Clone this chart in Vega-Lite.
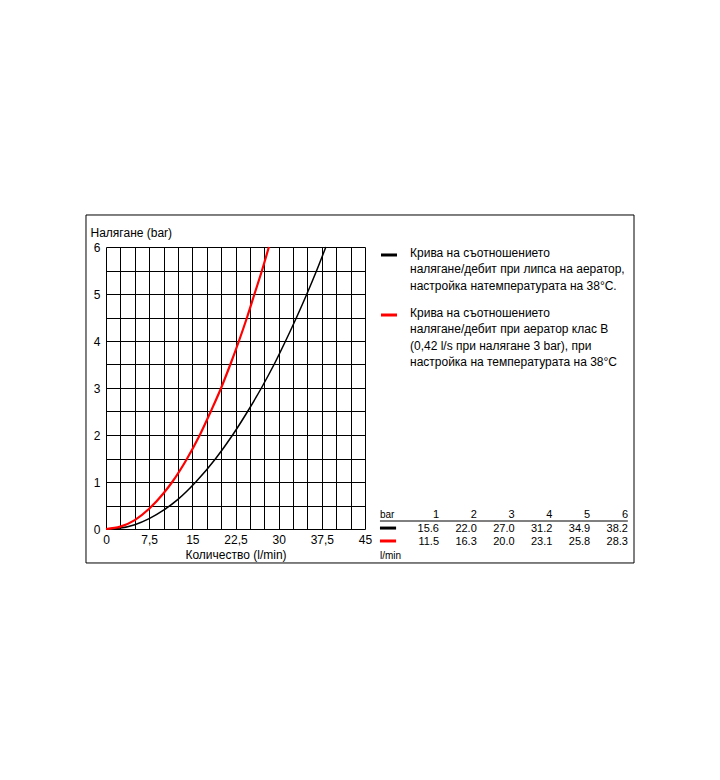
{
  "$schema": "https://vega.github.io/schema/vega-lite/v6.json",
  "autosize": "none",
  "width": 259,
  "height": 282,
  "padding": {"left": 106, "top": 247, "right": 355, "bottom": 251},
  "background": "white",
  "config": {
    "view": {"stroke": null},
    "font": "Liberation Sans",
    "axis": {
      "domain": false,
      "ticks": false,
      "grid": true,
      "gridColor": "#000000",
      "gridOpacity": 1,
      "gridWidth": 1,
      "labelFlush": false,
      "labelOverlap": false,
      "labelFont": "Liberation Sans",
      "labelFontSize": 12,
      "labelColor": "#000000",
      "titleFont": "Liberation Sans",
      "titleFontSize": 12,
      "titleFontWeight": "normal",
      "titleColor": "#000000"
    }
  },
  "datasets": {
    "curves": [
      {"series": "black", "q": 0, "p": 0},
      {"series": "black", "q": 2.5, "p": 0.02},
      {"series": "black", "q": 5, "p": 0.09},
      {"series": "black", "q": 7.5, "p": 0.22},
      {"series": "black", "q": 10, "p": 0.4},
      {"series": "black", "q": 12.5, "p": 0.63},
      {"series": "black", "q": 15.6, "p": 1},
      {"series": "black", "q": 19, "p": 1.49},
      {"series": "black", "q": 22, "p": 2},
      {"series": "black", "q": 24.6, "p": 2.5},
      {"series": "black", "q": 27, "p": 3},
      {"series": "black", "q": 29.2, "p": 3.5},
      {"series": "black", "q": 31.2, "p": 4},
      {"series": "black", "q": 33.1, "p": 4.5},
      {"series": "black", "q": 34.9, "p": 5},
      {"series": "black", "q": 36.6, "p": 5.5},
      {"series": "black", "q": 38.2, "p": 6},
      {"series": "red", "q": 0, "p": 0},
      {"series": "red", "q": 2.5, "p": 0.05},
      {"series": "red", "q": 5, "p": 0.19},
      {"series": "red", "q": 7.5, "p": 0.43},
      {"series": "red", "q": 10, "p": 0.76},
      {"series": "red", "q": 11.5, "p": 1},
      {"series": "red", "q": 14, "p": 1.48},
      {"series": "red", "q": 16.3, "p": 2},
      {"series": "red", "q": 18.2, "p": 2.5},
      {"series": "red", "q": 20, "p": 3},
      {"series": "red", "q": 21.6, "p": 3.5},
      {"series": "red", "q": 23.1, "p": 4},
      {"series": "red", "q": 24.5, "p": 4.5},
      {"series": "red", "q": 25.8, "p": 5},
      {"series": "red", "q": 27.1, "p": 5.5},
      {"series": "red", "q": 28.3, "p": 6}
    ],
    "table": [
      {"bar": 1, "black": 15.6, "red": 11.5},
      {"bar": 2, "black": 22.0, "red": 16.3},
      {"bar": 3, "black": 27.0, "red": 20.0},
      {"bar": 4, "black": 31.2, "red": 23.1},
      {"bar": 5, "black": 34.9, "red": 25.8},
      {"bar": 6, "black": 38.2, "red": 28.3}
    ],
    "one": [{}]
  },
  "layer": [
    {
      "layer": [
        {
          "data": {"name": "curves"},
          "mark": {"type": "line", "interpolate": "monotone", "clip": false},
          "encoding": {
            "x": {
              "field": "q", "type": "quantitative",
              "scale": {"domain": [0, 45], "nice": false, "zero": false},
              "axis": {"title": "Количество (l/min)", "values": [0, 2.5, 5, 7.5, 10, 12.5, 15, 17.5, 20, 22.5, 25, 27.5, 30, 32.5, 35, 37.5, 40, 42.5, 45], "labelExpr": "datum.value % 7.5 === 0 ? replace(toString(datum.value), '.', ',') : ''", "labelPadding": 5, "titlePadding": 4}
            },
            "y": {
              "field": "p", "type": "quantitative",
              "scale": {"domain": [0, 6], "nice": false, "zero": false},
              "axis": {"title": "Налягане (bar)", "values": [0, 0.5, 1, 1.5, 2, 2.5, 3, 3.5, 4, 4.5, 5, 5.5, 6], "labelExpr": "datum.value % 1 === 0 ? toString(datum.value) : ''", "labelPadding": 6, "titleAngle": 0, "titleAlign": "left", "titleBaseline": "middle", "titleX": -16, "titleY": -15}
            },
            "color": {"field": "series", "type": "nominal", "scale": {"domain": ["black", "red"], "range": ["#000000", "#ff0000"]}, "legend": null},
            "strokeWidth": {"field": "series", "type": "nominal", "scale": {"domain": ["black", "red"], "range": [1.5, 2.2]}, "legend": null},
            "order": {"field": "q", "type": "quantitative"}
          }
        },
        {
          "data": {"name": "one"},
          "mark": {"type": "rect", "fill": null, "fillOpacity": 0, "stroke": "#000000", "strokeWidth": 1, "clip": false},
          "encoding": {
            "x": {"datum": -3.475, "type": "quantitative", "axis": {"title": "Количество (l/min)", "values": [0, 2.5, 5, 7.5, 10, 12.5, 15, 17.5, 20, 22.5, 25, 27.5, 30, 32.5, 35, 37.5, 40, 42.5, 45], "labelExpr": "datum.value % 7.5 === 0 ? replace(toString(datum.value), '.', ',') : ''", "labelPadding": 5, "titlePadding": 4}},
            "x2": {"datum": 91.74},
            "y": {"datum": 6.681, "type": "quantitative", "axis": {"title": "Налягане (bar)", "values": [0, 0.5, 1, 1.5, 2, 2.5, 3, 3.5, 4, 4.5, 5, 5.5, 6], "labelExpr": "datum.value % 1 === 0 ? toString(datum.value) : ''", "labelPadding": 6, "titleAngle": 0, "titleAlign": "left", "titleBaseline": "middle", "titleX": -16, "titleY": -15}},
            "y2": {"datum": -0.723}
          }
        },
        {
          "data": {"name": "one"},
          "mark": {"type": "rule", "stroke": "#000000", "strokeWidth": 3, "clip": false},
          "encoding": {
            "x": {"datum": 47.78, "type": "quantitative", "axis": {"title": "Количество (l/min)", "values": [0, 2.5, 5, 7.5, 10, 12.5, 15, 17.5, 20, 22.5, 25, 27.5, 30, 32.5, 35, 37.5, 40, 42.5, 45], "labelExpr": "datum.value % 7.5 === 0 ? replace(toString(datum.value), '.', ',') : ''", "labelPadding": 5, "titlePadding": 4}},
            "x2": {"datum": 50.56},
            "y": {"datum": 5.83, "type": "quantitative", "axis": {"title": "Налягане (bar)", "values": [0, 0.5, 1, 1.5, 2, 2.5, 3, 3.5, 4, 4.5, 5, 5.5, 6], "labelExpr": "datum.value % 1 === 0 ? toString(datum.value) : ''", "labelPadding": 6, "titleAngle": 0, "titleAlign": "left", "titleBaseline": "middle", "titleX": -16, "titleY": -15}}
          }
        },
        {
          "data": {"name": "one"},
          "mark": {"type": "rule", "stroke": "#ff0000", "strokeWidth": 3, "clip": false},
          "encoding": {
            "x": {"datum": 47.78, "type": "quantitative", "axis": {"title": "Количество (l/min)", "values": [0, 2.5, 5, 7.5, 10, 12.5, 15, 17.5, 20, 22.5, 25, 27.5, 30, 32.5, 35, 37.5, 40, 42.5, 45], "labelExpr": "datum.value % 7.5 === 0 ? replace(toString(datum.value), '.', ',') : ''", "labelPadding": 5, "titlePadding": 4}},
            "x2": {"datum": 50.56},
            "y": {"datum": 4.553, "type": "quantitative", "axis": {"title": "Налягане (bar)", "values": [0, 0.5, 1, 1.5, 2, 2.5, 3, 3.5, 4, 4.5, 5, 5.5, 6], "labelExpr": "datum.value % 1 === 0 ? toString(datum.value) : ''", "labelPadding": 6, "titleAngle": 0, "titleAlign": "left", "titleBaseline": "middle", "titleX": -16, "titleY": -15}}
          }
        },
        {
          "data": {"name": "one"},
          "mark": {"type": "text", "align": "left", "baseline": "top", "fontSize": 12, "lineHeight": 16.3, "lineBreak": "\n", "color": "#000000", "clip": false, "dy": -7},
          "encoding": {
            "x": {"datum": 52.82, "type": "quantitative", "axis": {"title": "Количество (l/min)", "values": [0, 2.5, 5, 7.5, 10, 12.5, 15, 17.5, 20, 22.5, 25, 27.5, 30, 32.5, 35, 37.5, 40, 42.5, 45], "labelExpr": "datum.value % 7.5 === 0 ? replace(toString(datum.value), '.', ',') : ''", "labelPadding": 5, "titlePadding": 4}},
            "y": {"datum": 5.83, "type": "quantitative", "axis": {"title": "Налягане (bar)", "values": [0, 0.5, 1, 1.5, 2, 2.5, 3, 3.5, 4, 4.5, 5, 5.5, 6], "labelExpr": "datum.value % 1 === 0 ? toString(datum.value) : ''", "labelPadding": 6, "titleAngle": 0, "titleAlign": "left", "titleBaseline": "middle", "titleX": -16, "titleY": -15}},
            "text": {"value": "Крива на съотношението\nналягане/дебит при липса на аератор,\nнастройка натемпературата на 38°C."}
          }
        },
        {
          "data": {"name": "one"},
          "mark": {"type": "text", "align": "left", "baseline": "top", "fontSize": 12, "lineHeight": 16.3, "lineBreak": "\n", "color": "#000000", "clip": false, "dy": -7},
          "encoding": {
            "x": {"datum": 52.82, "type": "quantitative", "axis": {"title": "Количество (l/min)", "values": [0, 2.5, 5, 7.5, 10, 12.5, 15, 17.5, 20, 22.5, 25, 27.5, 30, 32.5, 35, 37.5, 40, 42.5, 45], "labelExpr": "datum.value % 7.5 === 0 ? replace(toString(datum.value), '.', ',') : ''", "labelPadding": 5, "titlePadding": 4}},
            "y": {"datum": 4.553, "type": "quantitative", "axis": {"title": "Налягане (bar)", "values": [0, 0.5, 1, 1.5, 2, 2.5, 3, 3.5, 4, 4.5, 5, 5.5, 6], "labelExpr": "datum.value % 1 === 0 ? toString(datum.value) : ''", "labelPadding": 6, "titleAngle": 0, "titleAlign": "left", "titleBaseline": "middle", "titleX": -16, "titleY": -15}},
            "text": {"value": "Крива на съотношението\nналягане/дебит при аератор клас B\n(0,42 l/s при налягане 3 bar), при\nнастройка на температурата на 38°C"}
          }
        },
        {
          "data": {"name": "one"},
          "mark": {"type": "text", "align": "left", "baseline": "middle", "fontSize": 10, "color": "#000000", "clip": false},
          "encoding": {
            "x": {"datum": 47.6, "type": "quantitative", "axis": {"title": "Количество (l/min)", "values": [0, 2.5, 5, 7.5, 10, 12.5, 15, 17.5, 20, 22.5, 25, 27.5, 30, 32.5, 35, 37.5, 40, 42.5, 45], "labelExpr": "datum.value % 7.5 === 0 ? replace(toString(datum.value), '.', ',') : ''", "labelPadding": 5, "titlePadding": 4}},
            "y": {"datum": 0.3, "type": "quantitative", "axis": {"title": "Налягане (bar)", "values": [0, 0.5, 1, 1.5, 2, 2.5, 3, 3.5, 4, 4.5, 5, 5.5, 6], "labelExpr": "datum.value % 1 === 0 ? toString(datum.value) : ''", "labelPadding": 6, "titleAngle": 0, "titleAlign": "left", "titleBaseline": "middle", "titleX": -16, "titleY": -15}},
            "text": {"value": "bar"}
          }
        },
        {
          "data": {"name": "one"},
          "mark": {"type": "text", "align": "left", "baseline": "middle", "fontSize": 10, "color": "#000000", "clip": false},
          "encoding": {
            "x": {"datum": 47.6, "type": "quantitative", "axis": {"title": "Количество (l/min)", "values": [0, 2.5, 5, 7.5, 10, 12.5, 15, 17.5, 20, 22.5, 25, 27.5, 30, 32.5, 35, 37.5, 40, 42.5, 45], "labelExpr": "datum.value % 7.5 === 0 ? replace(toString(datum.value), '.', ',') : ''", "labelPadding": 5, "titlePadding": 4}},
            "y": {"datum": -0.574, "type": "quantitative", "axis": {"title": "Налягане (bar)", "values": [0, 0.5, 1, 1.5, 2, 2.5, 3, 3.5, 4, 4.5, 5, 5.5, 6], "labelExpr": "datum.value % 1 === 0 ? toString(datum.value) : ''", "labelPadding": 6, "titleAngle": 0, "titleAlign": "left", "titleBaseline": "middle", "titleX": -16, "titleY": -15}},
            "text": {"value": "l/min"}
          }
        },
        {
          "data": {"name": "one"},
          "mark": {"type": "rule", "stroke": "#000000", "strokeWidth": 1, "clip": false},
          "encoding": {
            "x": {"datum": 47.6, "type": "quantitative", "axis": {"title": "Количество (l/min)", "values": [0, 2.5, 5, 7.5, 10, 12.5, 15, 17.5, 20, 22.5, 25, 27.5, 30, 32.5, 35, 37.5, 40, 42.5, 45], "labelExpr": "datum.value % 7.5 === 0 ? replace(toString(datum.value), '.', ',') : ''", "labelPadding": 5, "titlePadding": 4}},
            "x2": {"datum": 90.67},
            "y": {"datum": 0.17, "type": "quantitative", "axis": {"title": "Налягане (bar)", "values": [0, 0.5, 1, 1.5, 2, 2.5, 3, 3.5, 4, 4.5, 5, 5.5, 6], "labelExpr": "datum.value % 1 === 0 ? toString(datum.value) : ''", "labelPadding": 6, "titleAngle": 0, "titleAlign": "left", "titleBaseline": "middle", "titleX": -16, "titleY": -15}}
          }
        },
        {
          "data": {"name": "one"},
          "mark": {"type": "rule", "stroke": "#000000", "strokeWidth": 3, "clip": false},
          "encoding": {
            "x": {"datum": 47.6, "type": "quantitative", "axis": {"title": "Количество (l/min)", "values": [0, 2.5, 5, 7.5, 10, 12.5, 15, 17.5, 20, 22.5, 25, 27.5, 30, 32.5, 35, 37.5, 40, 42.5, 45], "labelExpr": "datum.value % 7.5 === 0 ? replace(toString(datum.value), '.', ',') : ''", "labelPadding": 5, "titlePadding": 4}},
            "x2": {"datum": 50.4},
            "y": {"datum": 0.02, "type": "quantitative", "axis": {"title": "Налягане (bar)", "values": [0, 0.5, 1, 1.5, 2, 2.5, 3, 3.5, 4, 4.5, 5, 5.5, 6], "labelExpr": "datum.value % 1 === 0 ? toString(datum.value) : ''", "labelPadding": 6, "titleAngle": 0, "titleAlign": "left", "titleBaseline": "middle", "titleX": -16, "titleY": -15}}
          }
        },
        {
          "data": {"name": "one"},
          "mark": {"type": "rule", "stroke": "#ff0000", "strokeWidth": 3, "clip": false},
          "encoding": {
            "x": {"datum": 47.6, "type": "quantitative", "axis": {"title": "Количество (l/min)", "values": [0, 2.5, 5, 7.5, 10, 12.5, 15, 17.5, 20, 22.5, 25, 27.5, 30, 32.5, 35, 37.5, 40, 42.5, 45], "labelExpr": "datum.value % 7.5 === 0 ? replace(toString(datum.value), '.', ',') : ''", "labelPadding": 5, "titlePadding": 4}},
            "x2": {"datum": 50.4},
            "y": {"datum": -0.255, "type": "quantitative", "axis": {"title": "Налягане (bar)", "values": [0, 0.5, 1, 1.5, 2, 2.5, 3, 3.5, 4, 4.5, 5, 5.5, 6], "labelExpr": "datum.value % 1 === 0 ? toString(datum.value) : ''", "labelPadding": 6, "titleAngle": 0, "titleAlign": "left", "titleBaseline": "middle", "titleX": -16, "titleY": -15}}
          }
        }
      ]
    },
    {
      "data": {"name": "table"},
      "encoding": {
        "x": {"field": "bar", "type": "quantitative", "scale": {"domain": [1, 6], "range": [333, 522], "zero": false, "nice": false}, "axis": null}
      },
      "layer": [
        {
          "mark": {"type": "text", "align": "right", "baseline": "middle", "fontSize": 11, "color": "#000000", "clip": false},
          "encoding": {
            "y": {"datum": 0.3, "type": "quantitative", "axis": {"title": "Налягане (bar)", "values": [0, 0.5, 1, 1.5, 2, 2.5, 3, 3.5, 4, 4.5, 5, 5.5, 6], "labelExpr": "datum.value % 1 === 0 ? toString(datum.value) : ''", "labelPadding": 6, "titleAngle": 0, "titleAlign": "left", "titleBaseline": "middle", "titleX": -16, "titleY": -15}},
            "text": {"field": "bar", "type": "quantitative"}
          }
        },
        {
          "mark": {"type": "text", "align": "right", "baseline": "middle", "fontSize": 11, "color": "#000000", "clip": false},
          "encoding": {
            "y": {"datum": 0.0, "type": "quantitative", "axis": {"title": "Налягане (bar)", "values": [0, 0.5, 1, 1.5, 2, 2.5, 3, 3.5, 4, 4.5, 5, 5.5, 6], "labelExpr": "datum.value % 1 === 0 ? toString(datum.value) : ''", "labelPadding": 6, "titleAngle": 0, "titleAlign": "left", "titleBaseline": "middle", "titleX": -16, "titleY": -15}},
            "text": {"field": "black", "type": "quantitative", "format": ".1f"}
          }
        },
        {
          "mark": {"type": "text", "align": "right", "baseline": "middle", "fontSize": 11, "color": "#000000", "clip": false},
          "encoding": {
            "y": {"datum": -0.277, "type": "quantitative", "axis": {"title": "Налягане (bar)", "values": [0, 0.5, 1, 1.5, 2, 2.5, 3, 3.5, 4, 4.5, 5, 5.5, 6], "labelExpr": "datum.value % 1 === 0 ? toString(datum.value) : ''", "labelPadding": 6, "titleAngle": 0, "titleAlign": "left", "titleBaseline": "middle", "titleX": -16, "titleY": -15}},
            "text": {"field": "red", "type": "quantitative", "format": ".1f"}
          }
        }
      ]
    }
  ],
  "resolve": {"scale": {"x": "independent"}}
}
